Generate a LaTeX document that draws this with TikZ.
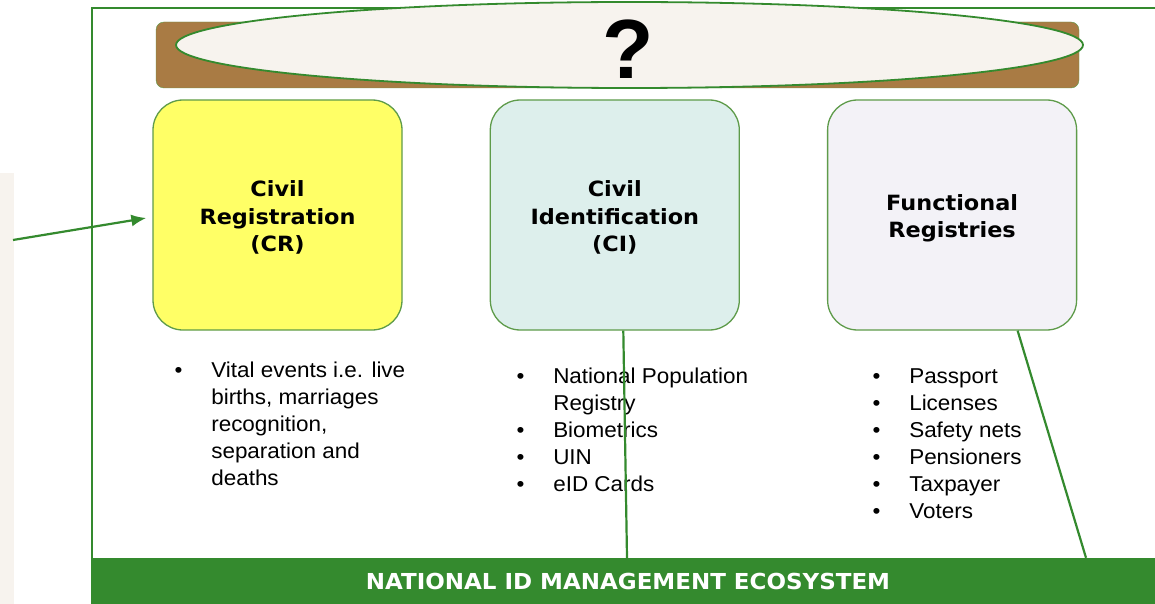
\documentclass[tikz,border=0pt]{standalone}
\usepackage{graphicx}
\usepackage{fontspec}
\setmainfont{Liberation Sans}
\newfontfamily\headfont{DejaVu Sans}
\usetikzlibrary{positioning,arrows.meta,shapes.geometric}

\definecolor{ecogreen}{HTML}{348A2E}
\definecolor{boxgreen}{HTML}{5E9B4A}
\definecolor{paper}{HTML}{F7F3EE}
\definecolor{bark}{HTML}{A97B44}
\definecolor{crfill}{HTML}{FFFF66}
\definecolor{cifill}{HTML}{DDEFEC}
\definecolor{frfill}{HTML}{F3F2F7}

\newcommand{\pillartext}[1]{\raisebox{-3.5pt}[\height][\depth]{\scalebox{1.066}[1]{\begin{tabular}{@{}c@{}}#1\end{tabular}}}}
\newcommand{\itemtext}[1]{\scalebox{1.045}[1]{\begin{tabular}{@{}p{35pt}@{}l@{}}#1\end{tabular}}}

\begin{document}
\begin{tikzpicture}[x=1pt,y=-1pt]
\tikzstyle{pillar}=[rectangle, rounded corners=30pt, draw=boxgreen, line width=1.3pt, minimum width=249pt, minimum height=230pt, align=center, font=\fontsize{21}{27.5}\selectfont\headfont\bfseries]
\tikzstyle{connect}=[line width=2.2pt, draw=ecogreen]
\tikzstyle{items}=[anchor=north west, inner sep=0pt, font=\fontsize{21.5}{27}\selectfont]

\useasboundingbox (0,0) rectangle (1155,604);
\clip (0,0) rectangle (1155,604);

% 1. Background
%%%%%%%%%%%%%%
\fill[paper] (0,173) rectangle (14,604);
\draw[ecogreen, line width=2.8pt] (92,620) |- (1170,8);

% 2. Nodes
%%%%%%%%%%
\node[fill=ecogreen, text=white, minimum width=1072pt, minimum height=46pt, font=\fontsize{22}{22}\selectfont\headfont\bfseries] (band) at (628,581) {\scalebox{1.045}[1]{NATIONAL ID MANAGEMENT ECOSYSTEM}};
\node[rectangle, rounded corners=8pt, fill=bark, draw=boxgreen, minimum width=923pt, minimum height=66pt] (bar) at (617.5,55) {};
\node[ellipse, fill=paper, draw=ecogreen, line width=1.8pt, minimum width=907pt, minimum height=86pt] (lens) at (629.5,45) {};
\node[font=\fontsize{84}{84}\selectfont\bfseries] (qmark) at (628,49) {?};
\node[pillar, fill=crfill] (cr) at (277.5,215) {\pillartext{Civil\\Registration\\(CR)}};
\node[pillar, fill=cifill] (ci) [right=87pt of cr] {\pillartext{Civil\\Identification\\(CI)}};
\node[pillar, fill=frfill] (fr) [right=87pt of ci] {\pillartext{Functional\\Registries}};
\node[items] (crlist) at (174.5,358.5) {\itemtext{
  \textbullet & Vital events i.e. live\\
              & births, marriages\\
              & recognition,\\
              & separation and\\
              & deaths}};
\node[items] (cilist) at (516.5,364.5) {\itemtext{
  \textbullet & National Population\\
              & Registry\\
  \textbullet & Biometrics\\
  \textbullet & UIN\\
  \textbullet & eID Cards}};
\node[items] (frlist) at (872.5,364.5) {\itemtext{
  \textbullet & Passport\\
  \textbullet & Licenses\\
  \textbullet & Safety nets\\
  \textbullet & Pensioners\\
  \textbullet & Taxpayer\\
  \textbullet & Voters}};
\coordinate (src) at (13,240);

% 3. Arrows
%%%%%%%%%%%
\draw[connect, -{Latex[length=15pt,width=12pt]}] (src) -- ([xshift=-6pt,yshift=-3pt]cr.west);
\draw[connect] ([xshift=8.5pt]ci.south) -- ([xshift=-1pt]band.north);
\draw[connect] ([xshift=65.5pt]fr.south) -- ([xshift=458pt]band.north);

\end{tikzpicture}
\end{document}
